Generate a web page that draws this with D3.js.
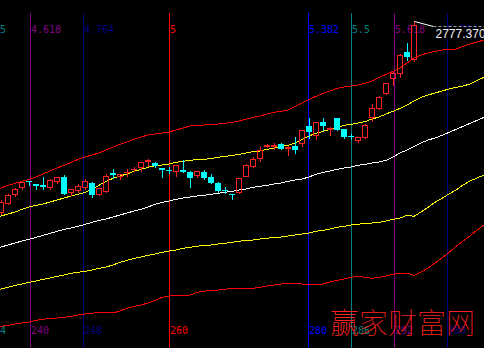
<!DOCTYPE html>
<html>
<head>
<meta charset="utf-8">
<script src="https://cdn.jsdelivr.net/npm/d3@7"></script>
<style>
  body { margin: 0; background: #000; }
  svg { display: block; }
</style>
</head>
<body>
<svg id="chart"></svg>
<script>
// candles: bar numbers 236..295
const firstBar = 236;
const opens  = [2204,2231,2258,2279,2297,2287,2284,2279,2298,2309,2264,2270,2280,2291,2258,2268,2321,2312,2323,2332,
                2340,2357,2352,2336,2331,2328,2329,2323,2316,2325,2309,2291,2271,2259,2263,2313,2342,2367,2402,2403,
                2408,2397,2403,2412,2462,2435,2474,2454,2485,2452,2433,2421,2430,2489,2515,2560,2605,2620,2685,2662];
const highs  = [2240,2258,2276,2297,2297,2287,2309,2302,2309,2316,2273,2289,2302,2294,2277,2319,2334,2319,2333,2339,
                2354,2362,2355,2336,2340,2346,2359,2328,2328,2330,2317,2295,2280,2259,2306,2347,2370,2400,2408,2410,
                2410,2402,2428,2450,2486,2474,2486,2460,2486,2453,2437,2430,2468,2528,2551,2591,2625,2677,2710,2777.37];
const lows   = [2198,2228,2252,2273,2285,2273,2273,2273,2290,2258,2254,2263,2274,2250,2255,2265,2307,2303,2313,2327,
                2327,2342,2340,2310,2320,2313,2324,2280,2310,2304,2292,2263,2262,2244,2262,2311,2340,2357,2398,2394,
                2392,2375,2382,2402,2425,2422,2450,2436,2450,2427,2424,2415,2427,2478,2513,2559,2585,2610,2660,2658];
const closes = [2234,2255,2273,2294,2296,2285,2282,2300,2308,2262,2272,2282,2296,2257,2275,2312,2319,2318,2325,2334,
                2353,2359,2346,2334,2329,2345,2327,2310,2327,2309,2294,2270,2269,2257,2305,2344,2362,2390,2404,2405,
                2395,2399,2393,2449,2448,2473,2465,2456,2453,2433,2431,2429,2465,2516,2550,2590,2620,2675,2672,2765];

// band lines: bar numbers 235..305
const lineFirstBar = 235;
const upperRed = [2269,2276,2284,2290,2296,2302,2309,2318,2327,2336,2344,2353,2362,2369,2375,2381,2390,2399,2407,2414,
                  2422,2429,2435,2438,2441,2444,2450,2456,2462,2464,2465,2467,2468,2470,2473,2477,2482,2488,2492,2498,
                  2503,2506,2510,2521,2531,2542,2551,2560,2567,2575,2579,2582,2585,2590,2597,2608,2617,2626,2636,2651,
                  2666,2675,2681,2686,2690,2692,2693,2701,2708,2714,2720];
const upperYellow = [2185,2192,2198,2204,2212,2219,2224,2228,2234,2240,2246,2252,2257,2263,2273,2284,2296,2305,2312,2318,
                     2326,2332,2338,2343,2345,2348,2353,2356,2359,2361,2362,2364,2368,2371,2373,2377,2381,2385,2387,2392,
                     2396,2401,2404,2411,2422,2432,2440,2446,2452,2456,2464,2467,2471,2475,2483,2489,2498,2506,2515,2525,
                     2537,2548,2555,2561,2567,2573,2578,2582,2588,2599,2608];
const midWhite = [2093,2099,2105,2111,2117,2122,2128,2134,2140,2146,2152,2156,2161,2167,2173,2179,2183,2189,2195,2201,
                  2207,2212,2219,2227,2233,2237,2242,2246,2249,2252,2254,2257,2260,2263,2266,2270,2273,2278,2281,2284,
                  2288,2291,2296,2300,2303,2309,2317,2323,2327,2332,2336,2339,2344,2347,2351,2354,2359,2369,2381,2390,
                  2401,2411,2420,2426,2434,2443,2452,2461,2470,2479,2488];
const lowerYellow = [1967,1973,1978,1984,1988,1993,1997,2002,2006,2011,2015,2020,2023,2026,2030,2035,2039,2045,2053,2059,
                     2065,2069,2074,2078,2083,2087,2090,2095,2098,2101,2104,2105,2108,2110,2113,2116,2119,2120,2123,2125,
                     2128,2129,2132,2135,2138,2141,2146,2149,2153,2158,2161,2165,2167,2170,2171,2173,2177,2182,2186,2194,
                     2191,2204,2218,2233,2245,2258,2270,2285,2297,2306,2315];
const lowerRed = [1856,1861,1864,1868,1871,1874,1879,1882,1885,1886,1888,1891,1895,1898,1900,1903,1903,1901,1907,1915,
                  1921,1925,1931,1939,1948,1952,1954,1954,1955,1963,1966,1969,1970,1972,1975,1975,1976,1975,1978,1982,
                  1985,1988,1990,1991,1988,1987,1985,1988,1994,1999,2003,2008,2011,2008,2005,2008,2012,2017,2021,2021,
                  2014,2024,2036,2051,2066,2083,2101,2117,2132,2150,2165];

// fibonacci time lines
const fibRatios = ['4.5', '4.618', '4.764', '5', '5.382', '5.5', '5.618', '5.764'];
const fibBars   = ['234', '240', '248', '260', '280', '286', '292', '300'];
const fibColors = ['#008080', '#800080', '#000080', '#ff0000', '#0000ff', '#008080', '#800080', '#000080'];
const fibAnchorBar = 260, fibAnchorRatio = 5, fibPeriod = 52;

const highLabel = '2777.370';
const watermark = '赢家财富网';

const W = 484, H = 348;
const upColor = '#ff2020', downColor = '#00ffff';

const svg = d3.select('#chart').attr('width', W).attr('height', H);
svg.append('rect').attr('width', W).attr('height', H).attr('fill', '#000');

const xScale = d3.scaleLinear().domain([240, 300]).range([29, 449]);
const yScale = d3.scaleLinear().domain([1796, 2840]).range([H, 0]);
const px = v => Math.round(v) + 0.5;

// time lines + labels
const fib = fibRatios.map((r, i) => ({
  ratio: r, bar: fibBars[i], color: fibColors[i],
  x: px(xScale(fibAnchorBar + (+r - fibAnchorRatio) * fibPeriod))
}));

const fibG = svg.append('g');
fibG.selectAll('line').data(fib).join('line')
    .attr('x1', d => d.x).attr('x2', d => d.x)
    .attr('y1', 13).attr('y2', H)
    .attr('stroke', d => d.color);
fibG.selectAll('text.top').data(fib).join('text')
    .attr('class', 'top')
    .attr('x', d => d.x + 0.5).attr('y', 33)
    .attr('fill', d => d.color)
    .style('font', '10px "DejaVu Sans Mono"')
    .text(d => d.ratio);
fibG.selectAll('text.bottom').data(fib).join('text')
    .attr('class', 'bottom')
    .attr('x', d => d.x + 0.5).attr('y', 334)
    .attr('fill', d => d.color)
    .style('font', '10px "DejaVu Sans Mono"')
    .text(d => d.bar);

// band lines
const bands = [
  {values: lowerRed, color: '#ff0000'},
  {values: lowerYellow, color: '#ffff00'},
  {values: midWhite, color: '#ffffff'},
  {values: upperYellow, color: '#ffff00'},
  {values: upperRed, color: '#ff0000'}
];
const line = d3.line()
    .x((d, i) => xScale(lineFirstBar + i))
    .y(d => yScale(d));
svg.append('g').selectAll('path').data(bands).join('path')
    .attr('d', d => line(d.values))
    .attr('fill', 'none')
    .attr('stroke', d => d.color)
    .attr('stroke-width', 1)
    .attr('shape-rendering', 'crispEdges');

// candles
const candles = opens.map((o, i) => ({
  bar: firstBar + i, o: o, h: highs[i], l: lows[i], c: closes[i]
}));

const cg = svg.append('g').attr('shape-rendering', 'crispEdges');
candles.forEach(d => {
  const cx = Math.round(xScale(d.bar));
  const up = d.c >= d.o;
  const color = up ? upColor : downColor;
  const top = Math.round(yScale(Math.max(d.o, d.c)));
  const bot = Math.round(yScale(Math.min(d.o, d.c)));
  const hi = Math.round(yScale(d.h));
  const lo = Math.round(yScale(d.l));
  const g = cg.append('g');

  if (bot - top < 1) {
    // doji: just a bar and a wick
    g.append('line').attr('x1', cx + 0.5).attr('x2', cx + 0.5)
        .attr('y1', hi).attr('y2', lo + 1).attr('stroke', color);
    g.append('line').attr('x1', cx - 3).attr('x2', cx + 3)
        .attr('y1', top + 0.5).attr('y2', top + 0.5).attr('stroke', color);
    return;
  }
  if (up) {
    g.append('line').attr('x1', cx + 0.5).attr('x2', cx + 0.5)
        .attr('y1', hi).attr('y2', top).attr('stroke', color);
    g.append('line').attr('x1', cx + 0.5).attr('x2', cx + 0.5)
        .attr('y1', bot + 1).attr('y2', lo + 1).attr('stroke', color);
    g.append('rect').attr('x', cx - 2.5).attr('y', top + 0.5)
        .attr('width', 5).attr('height', bot - top)
        .attr('fill', 'none').attr('stroke', color);
  } else {
    g.append('line').attr('x1', cx + 0.5).attr('x2', cx + 0.5)
        .attr('y1', hi).attr('y2', lo + 1).attr('stroke', color);
    g.append('rect').attr('x', cx - 3).attr('y', top)
        .attr('width', 6).attr('height', bot - top + 1)
        .attr('fill', color);
  }
});

// marker for the highest price
const last = candles[candles.length - 1];
const hx = Math.round(xScale(last.bar)) + 0.5;
const hy = Math.round(yScale(last.h)) + 0.5;
svg.append('line')
    .attr('x1', hx).attr('y1', hy).attr('x2', hx + 19).attr('y2', hy + 5)
    .attr('stroke', '#fff');
svg.append('rect')
    .attr('x', hx + 19).attr('y', hy + 6).attr('width', W).attr('height', 12)
    .attr('fill', '#000');
svg.append('line')
    .attr('x1', hx + 19).attr('y1', hy + 5).attr('x2', W).attr('y2', hy + 5)
    .attr('stroke', '#a0a0a0').attr('stroke-dasharray', '3,2');
svg.append('text')
    .attr('x', hx + 21).attr('y', hy + 16)
    .attr('fill', '#f4f4ff')
    .style('font', '12px "Liberation Sans"')
    .text(highLabel);

// watermark
svg.append('text')
    .attr('x', 330).attr('y', 334)
    .attr('fill', '#ff2020')
    .style('font-family', '"Noto Sans CJK SC"')
    .style('font-size', '29px')
    .style('font-weight', 100)
    .text(watermark);
</script>
</body>
</html>
